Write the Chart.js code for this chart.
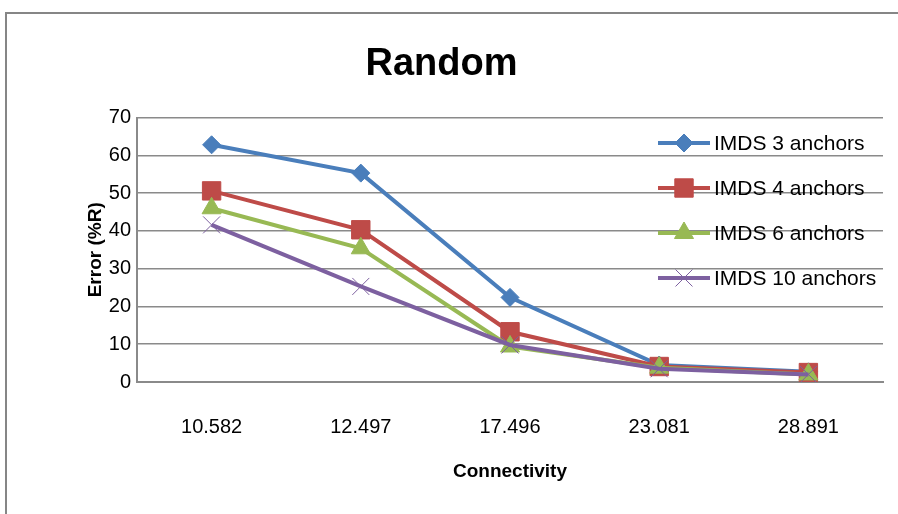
<!DOCTYPE html>
<html>
<head>
<meta charset="utf-8">
<script src="https://cdn.jsdelivr.net/npm/chart.js@4/dist/chart.umd.min.js"></script>
<style>
  html, body { margin: 0; padding: 0; background: #fff; }
  #wrap { width: 898px; height: 514px; }
</style>
</head>
<body>
<div id="wrap"><canvas id="chart" width="898" height="514"></canvas></div>
<script>
/* =========================
   RANDOM - error vs connectivity
========================= */

const connectivity = ['10.582', '12.497', '17.496', '23.081', '28.891'];
const yTicks = [0, 10, 20, 30, 40, 50, 60, 70];

const imds3 = [62.8, 55.3, 22.4, 4.5, 2.7];
const imds4 = [50.6, 40.3, 13.3, 4.1, 2.5];
const imds6 = [46.0, 35.4, 9.4, 3.8, 2.0];
const imds10 = [41.6, 25.3, 9.8, 3.5, 2.0];

const seriesNames = ['IMDS 3 anchors', 'IMDS 4 anchors', 'IMDS 6 anchors', 'IMDS 10 anchors'];

const GRID = '#8a8a8a';
const FONT = 'Liberation Sans, Arial, sans-serif';

function series(label, data, color, style, radius, order, borderW) {
  return {
    label, data, order,
    borderColor: color,
    backgroundColor: color,
    borderWidth: 4,
    pointStyle: style,
    pointRadius: radius,
    pointHoverRadius: radius,
    pointBorderWidth: borderW || 1,
    pointBorderColor: color,
    pointBackgroundColor: color,
    tension: 0,
    fill: false
  };
}

// legend drawn inside the plot area, Excel style
const insideLegend = {
  id: 'insideLegend',
  afterDatasetsDraw(chart) {
    const ctx = chart.ctx;
    const x0 = 658, x1 = 710, tx = 714;
    const ys = [143, 188, 233, 278];
    ctx.save();
    chart.data.datasets.forEach((ds, i) => {
      const y = ys[i];
      ctx.strokeStyle = ds.borderColor;
      ctx.lineWidth = 4;
      ctx.beginPath();
      ctx.moveTo(x0, y);
      ctx.lineTo(x1, y);
      ctx.stroke();
      ctx.lineWidth = ds.pointBorderWidth;
      ctx.fillStyle = ds.pointBackgroundColor;
      Chart.helpers.drawPoint(ctx, { pointStyle: ds.pointStyle, radius: ds.pointRadius, borderWidth: ds.pointBorderWidth }, (x0 + x1) / 2, y);
      ctx.fillStyle = '#000';
      ctx.font = '21px ' + FONT;
      ctx.textBaseline = 'middle';
      ctx.fillText(seriesNames[i], tx, y + 1);
    });
    ctx.restore();
  }
};

const frame = {
  id: 'frame',
  beforeDraw(chart) {
    const ctx = chart.ctx;
    ctx.save();
    ctx.fillStyle = '#fff';
    ctx.fillRect(0, 0, chart.width, chart.height);
    ctx.strokeStyle = '#868686';
    ctx.lineWidth = 2;
    ctx.strokeRect(6, 13, 1000, 1000);
    ctx.restore();
  }
};

new Chart(document.getElementById('chart'), {
  type: 'line',
  data: {
    labels: connectivity,
    datasets: [
      series(seriesNames[0], imds3, '#4a7ebb', 'rectRot', 9, 4),
      series(seriesNames[1], imds4, '#be4b48', 'rect', 13, 3),
      series(seriesNames[2], imds6, '#98b954', 'triangle', 11, 2),
      series(seriesNames[3], imds10, '#7d60a0', 'crossRot', 12, 1, 1)
    ]
  },
  options: {
    responsive: false,
    animation: false,
    layout: { padding: { top: 0, left: 0, right: 15, bottom: 0 } },
    plugins: {
      legend: { display: false },
      tooltip: { enabled: false },
      title: {
        display: true,
        text: 'Random',
        color: '#000',
        font: { family: FONT, size: 38, weight: 'bold' },
        padding: { top: 42, bottom: 30 }
      }
    },
    scales: {
      x: {
        offset: true,
        grid: { display: false, drawTicks: false },
        border: { display: true, color: GRID, width: 2 },
        ticks: { color: '#000', font: { family: FONT, size: 20 }, padding: 33 },
        title: {
          display: true,
          text: 'Connectivity',
          color: '#000',
          font: { family: FONT, size: 19, weight: 'bold' },
          padding: { top: 20, bottom: 31 }
        },
        afterFit(s) { s.height = 132; }
      },
      y: {
        min: 0,
        max: 70,
        afterBuildTicks(s) { s.ticks = yTicks.map(v => ({ value: v })); },
        grid: { color: GRID, lineWidth: 1.5, drawTicks: false },
        border: { display: true, color: GRID, width: 2 },
        ticks: { color: '#000', font: { family: FONT, size: 20 }, padding: 6 },
        title: {
          display: true,
          text: 'Error (%R)',
          color: '#000',
          font: { family: FONT, size: 19, weight: 'bold' },
          padding: { top: 84, bottom: 0 }
        },
        afterFit(s) { s.width = 137; }
      }
    }
  },
  plugins: [frame, insideLegend]
});
</script>
</body>
</html>
